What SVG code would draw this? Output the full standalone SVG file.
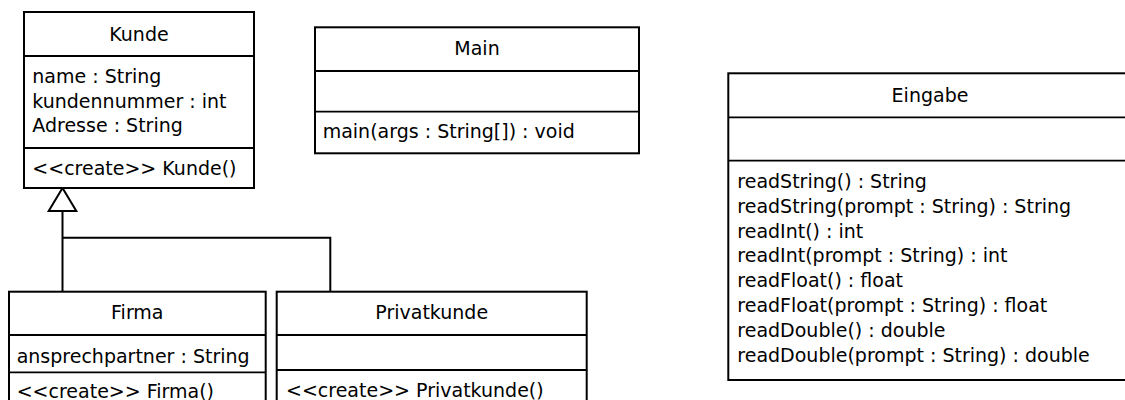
<svg xmlns="http://www.w3.org/2000/svg" width="1125" height="400" viewBox="0 0 1125 400">
<style>
.box{fill:#fff;stroke:#000;stroke-width:2}
.div{stroke:#000;stroke-width:1.8}
text{font-family:"DejaVu Sans",sans-serif;font-size:19px;fill:#000}
.t{text-anchor:middle}
.conn{fill:none;stroke:#000;stroke-width:2}
</style>
<rect width="1125" height="400" fill="#fff"/>
<g id="connectors">
<path class="conn" d="M62.5,211 V292 M62.5,237.7 H330.3 V292"/>
<polygon points="62.5,188 48.7,211 76.3,211" fill="#fff" stroke="#000" stroke-width="2"/>
</g>
<g id="Kunde">
<rect class="box" x="24" y="12" width="230" height="176"/>
<line class="div" x1="24" y1="56" x2="254" y2="56"/>
<line class="div" x1="24" y1="148" x2="254" y2="148"/>
<text class="t" x="139" y="40.7">Kunde</text>
<text x="32.3" y="82.7">name : String</text>
<text x="32.3" y="107.5">kundennummer : int</text>
<text x="32.3" y="132.3">Adresse : String</text>
<text x="32.3" y="175">&lt;&lt;create&gt;&gt; Kunde()</text>
</g>
<g id="Main">
<rect class="box" x="315" y="27.3" width="324" height="126"/>
<line class="div" x1="315" y1="71" x2="639" y2="71"/>
<line class="div" x1="315" y1="111.7" x2="639" y2="111.7"/>
<text class="t" x="477" y="55">Main</text>
<text x="322.7" y="137.7">main(args : String[]) : void</text>
</g>
<g id="Eingabe">
<rect class="box" x="728.3" y="73.3" width="404" height="306.7"/>
<line class="div" x1="728.3" y1="117.3" x2="1132" y2="117.3"/>
<line class="div" x1="728.3" y1="160.7" x2="1132" y2="160.7"/>
<text class="t" x="930" y="101.7">Eingabe</text>
<text x="737.3" y="188">readString() : String</text>
<text x="737.3" y="212.8">readString(prompt : String) : String</text>
<text x="737.3" y="237.6">readInt() : int</text>
<text x="737.3" y="262.4">readInt(prompt : String) : int</text>
<text x="737.3" y="287.2">readFloat() : float</text>
<text x="737.3" y="312">readFloat(prompt : String) : float</text>
<text x="737.3" y="336.8">readDouble() : double</text>
<text x="737.3" y="361.6">readDouble(prompt : String) : double</text>
</g>
<g id="Firma">
<rect class="box" x="9" y="291.7" width="256.7" height="130"/>
<line class="div" x1="9" y1="335" x2="265.7" y2="335"/>
<line class="div" x1="9" y1="372.3" x2="265.7" y2="372.3"/>
<text class="t" x="137.3" y="319">Firma</text>
<text x="16.7" y="362.7">ansprechpartner : String</text>
<text x="16.7" y="398">&lt;&lt;create&gt;&gt; Firma()</text>
</g>
<g id="Privatkunde">
<rect class="box" x="276.7" y="291.7" width="310" height="130"/>
<line class="div" x1="276.7" y1="335" x2="586.7" y2="335"/>
<line class="div" x1="276.7" y1="370" x2="586.7" y2="370"/>
<text class="t" x="431.7" y="319">Privatkunde</text>
<text x="286" y="397">&lt;&lt;create&gt;&gt; Privatkunde()</text>
</g>
</svg>
